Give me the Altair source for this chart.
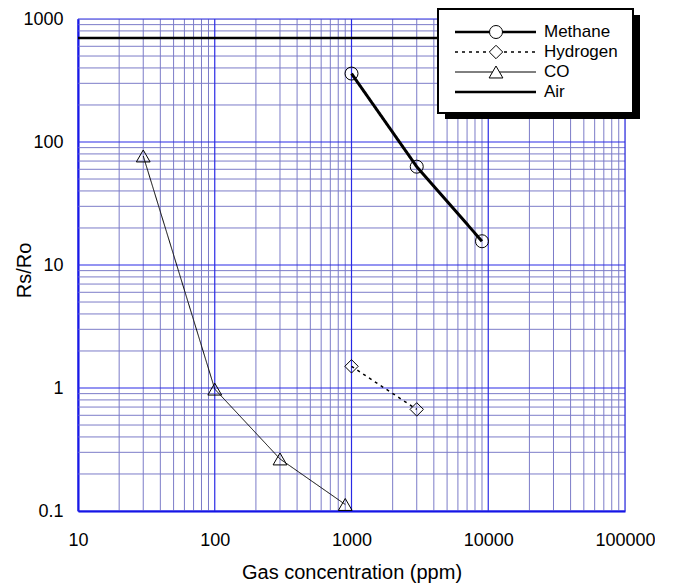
import altair as alt
import pandas as pd

# ---- data ----
methane_x = [1000, 3000, 9000]
methane_y = [360, 63, 15.6]
hydrogen_x = [1000, 3000]
hydrogen_y = [1.5, 0.67]
co_x = [30, 100, 300, 900]
co_y = [77, 0.98, 0.265, 0.113]
air_x = [10, 100000]
air_y = [700, 700]
series_names = ["Methane", "Hydrogen", "CO", "Air"]

x_major = [10, 100, 1000, 10000, 100000]
y_major = [0.1, 1, 10, 100, 1000]
multipliers = [2, 3, 4, 5, 6, 7, 8, 9]
x_minor = [m * d for d in x_major[:-1] for m in multipliers]
y_minor = [m * d for d in y_major[:-1] for m in multipliers]

FONT = "Liberation Sans"
BLUE = "#0000e6"
MAJOR = "#2a2ae6"
MINOR = "#7c7cc8"
W, H = 547, 492

xscale = alt.Scale(type="log", domain=[10, 100000], nice=False)
yscale = alt.Scale(type="log", domain=[0.1, 1000], nice=False)

xaxis = alt.Axis(values=x_major, format="~g", grid=False, ticks=False, labelFlush=False,
                 labelFontSize=18, labelFont=FONT, labelColor="black", labelPadding=20,
                 domainColor=BLUE, domainWidth=2,
                 title="Gas concentration (ppm)", titleFont=FONT, titleFontSize=20,
                 titleFontWeight="normal", titleColor="black",
                 titleY=67, titleBaseline="alphabetic")
yaxis = alt.Axis(values=y_major, format="~g", grid=False, ticks=False, labelFlush=False,
                 labelFontSize=18, labelFont=FONT, labelColor="black", labelPadding=15,
                 domainColor=BLUE, domainWidth=2,
                 title="Rs/Ro", titleFont=FONT, titleFontSize=20,
                 titleFontWeight="normal", titleColor="black",
                 titleX=-54, titleY=251, titleBaseline="middle")


def X():
    return alt.X("x:Q", scale=xscale, axis=xaxis)


def Y():
    return alt.Y("y:Q", scale=yscale, axis=yaxis)


layers = []
# grid
layers.append(alt.Chart(pd.DataFrame({"x": x_minor})).mark_rule(color=MINOR, strokeWidth=1).encode(x=X()))
layers.append(alt.Chart(pd.DataFrame({"y": y_minor})).mark_rule(color=MINOR, strokeWidth=1).encode(y=Y()))
layers.append(alt.Chart(pd.DataFrame({"x": x_major})).mark_rule(color=MAJOR, strokeWidth=1.2).encode(x=X()))
layers.append(alt.Chart(pd.DataFrame({"y": y_major})).mark_rule(color=MAJOR, strokeWidth=1.2).encode(y=Y()))

styles = {
    "Methane": dict(width=3, dash=[1, 0], shape="circle", size=169),
    "Hydrogen": dict(width=1.5, dash=[3, 4], shape="diamond", size=180),
    "CO": dict(width=1, dash=[1, 0], shape="triangle-up", size=190),
    "Air": dict(width=2.5, dash=[1, 0], shape=None, size=0),
}
series = {
    "Methane": (methane_x, methane_y),
    "Hydrogen": (hydrogen_x, hydrogen_y),
    "CO": (co_x, co_y),
    "Air": (air_x, air_y),
}

for name in ["Air", "CO", "Hydrogen", "Methane"]:
    xs, ys = series[name]
    st = styles[name]
    df = pd.DataFrame({"x": xs, "y": ys})
    layers.append(alt.Chart(df).mark_line(color="black", strokeWidth=st["width"],
                                          strokeDash=st["dash"]).encode(x=X(), y=Y()))
    if st["shape"]:
        layers.append(alt.Chart(df).mark_point(shape=st["shape"], size=st["size"], filled=False,
                                               color="black", strokeWidth=1, opacity=1)
                      .encode(x=X(), y=Y()))

# ---- custom legend box (pixel positions relative to plot origin) ----
one = pd.DataFrame({"a": [0]})
bx0, bx1, by0, by1 = 360, 555, -10, 94
layers.append(alt.Chart(one).mark_rect(color="black").encode(
    x=alt.value(bx0 + 7), x2=alt.value(bx1 + 7), y=alt.value(by0 + 6), y2=alt.value(by1 + 6)))
layers.append(alt.Chart(one).mark_rect(fill="white", stroke="black", strokeWidth=2).encode(
    x=alt.value(bx0), x2=alt.value(bx1), y=alt.value(by0), y2=alt.value(by1)))

row_y = [13, 33, 53, 73]
for name, ry in zip(series_names, row_y):
    st = styles[name]
    layers.append(alt.Chart(one).mark_rule(color="black", strokeWidth=min(st["width"], 2.5),
                                           strokeDash=st["dash"]).encode(
        x=alt.value(377), x2=alt.value(458), y=alt.value(ry)))
    if st["shape"]:
        layers.append(alt.Chart(one).mark_point(shape=st["shape"], size=st["size"], filled=True,
                                                fill="white", stroke="black", strokeWidth=1,
                                                opacity=1).encode(
            x=alt.value(418), y=alt.value(ry)))
    layers.append(alt.Chart(pd.DataFrame({"t": [name]})).mark_text(
        align="left", baseline="middle", font=FONT, fontSize=17, color="black").encode(
        x=alt.value(466), y=alt.value(ry), text="t:N"))

chart = alt.layer(*layers).properties(
    width=W, height=H,
    autosize=alt.AutoSizeParams(type="none"),
    padding={"left": 70, "top": 11, "right": 30, "bottom": 80},
).configure_view(stroke=BLUE, strokeWidth=2).configure(background="white")

chart.save("out.html", embed_options={"renderer": "svg", "actions": False})
